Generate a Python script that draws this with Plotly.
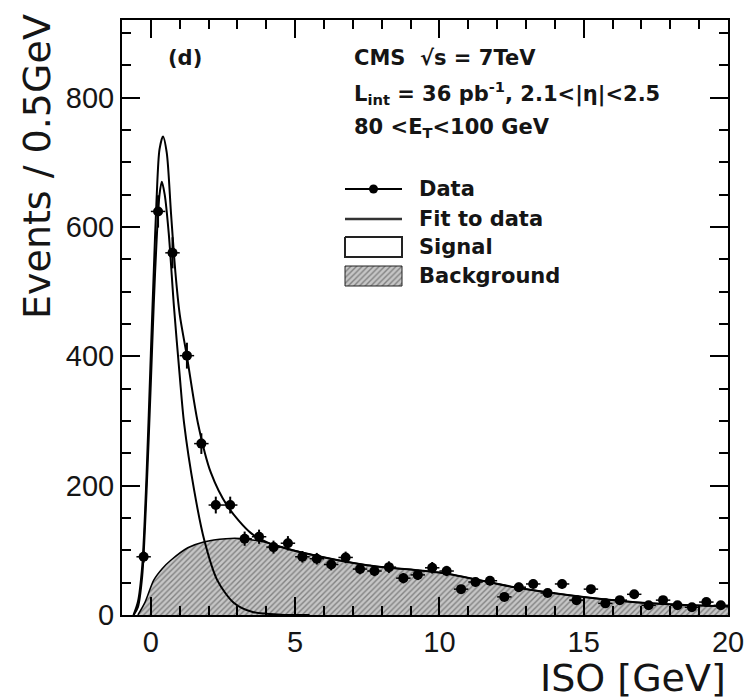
import plotly.graph_objects as go

# ---- data ----
iso_bins = [-0.25, 0.25, 0.75, 1.25, 1.75, 2.25, 2.75, 3.25, 3.75, 4.25, 4.75,
            5.25, 5.75, 6.25, 6.75, 7.25, 7.75, 8.25, 8.75, 9.25, 9.75,
            10.25, 10.75, 11.25, 11.75, 12.25, 12.75, 13.25, 13.75, 14.25, 14.75,
            15.25, 15.75, 16.25, 16.75, 17.25, 17.75, 18.25, 18.75, 19.25, 19.75]
events = [90, 624, 560, 401, 265, 170, 170, 118, 121, 105, 111,
          90, 87, 78, 89, 71, 68, 74, 57, 62, 73,
          68, 40, 51, 53, 28, 43, 48, 34, 48, 23,
          40, 18, 23, 32, 15, 23, 15, 12, 20, 15]
events_err = [9, 25, 24, 20, 16, 13, 13, 11, 11, 10, 11,
              9, 9, 9, 9, 8, 8, 9, 8, 8, 9,
              8, 6, 7, 7, 5, 7, 7, 6, 7, 5,
              6, 4, 5, 6, 4, 5, 4, 3, 4, 4]

fit_x = [-0.6, -0.45, -0.3, -0.15, 0.0, 0.1, 0.2, 0.3, 0.42, 0.55, 0.7, 0.85, 1.0,
         1.25, 1.63, 2.08, 2.66, 3.46, 4.15, 5.2, 7.5, 10.1, 12.6, 15.0, 17.3, 20.0]
fit_y = [0, 20, 75, 215, 405, 530, 645, 720, 740, 715, 620, 530, 465,
         400, 297, 220, 168, 127, 110, 97, 77, 65, 43, 28, 18, 13]

sig_x = [-0.6, -0.45, -0.3, -0.15, 0.0, 0.1, 0.2, 0.3, 0.38, 0.48, 0.62, 0.8, 1.0,
         1.15, 1.5, 1.85, 2.3, 2.87, 3.5, 4.5, 5.5]
sig_y = [0, 12, 60, 190, 360, 480, 580, 650, 670, 650, 590, 477, 370,
         297, 193, 116, 54, 19, 5, 0.5, 0]

bkg_x = [-0.45, -0.2, 0.1, 0.4, 0.7, 1.28, 1.83, 2.6, 3.2, 4.0, 5.2, 7.5, 10.1,
         12.6, 15.0, 17.3, 20.0]
bkg_y = [0, 20, 54, 72, 85, 104, 113, 118, 118, 112, 97, 77, 65,
         43, 28, 18, 13]

x_ticks = [0, 5, 10, 15, 20]
y_ticks = [0, 200, 400, 600, 800]

legend_labels = ["Data", "Fit to data", "Signal", "Background"]

# ---- layout geometry (pixels of the 744x699 canvas) ----
W, H = 744, 699
L, R, T, B = 122, 728, 20, 615


def px(xp):
    return (xp - L) / (R - L)


def py(yp):
    return (B - yp) / (B - T)


TICK_FONT = "Liberation Sans"
TEXT_FONT = "DejaVu Sans"
INK = "#151515"
hatch = dict(shape="/", fgcolor="#3c3c3c", bgcolor="#c6c6c6", size=4, solidity=0.35)

fig = go.Figure()

# background (hatched)
fig.add_trace(go.Scatter(x=bkg_x, y=bkg_y, mode="lines",
                         line=dict(color="black", width=1.5, shape="spline", smoothing=0.8),
                         fill="tozeroy", fillpattern=hatch, fillcolor="#c6c6c6",
                         showlegend=False, hoverinfo="skip"))
# signal curve
fig.add_trace(go.Scatter(x=sig_x, y=sig_y, mode="lines",
                         line=dict(color="black", width=2, shape="spline", smoothing=0.8),
                         showlegend=False))
# total fit
fig.add_trace(go.Scatter(x=fit_x, y=fit_y, mode="lines",
                         line=dict(color="black", width=2, shape="spline", smoothing=0.8),
                         showlegend=False))
# data
fig.add_trace(go.Scatter(x=iso_bins, y=events, mode="markers",
                         marker=dict(color="black", size=10),
                         error_y=dict(type="data", array=events_err, color="black", thickness=2, width=0),
                         error_x=dict(type="constant", value=0.25, color="black", thickness=1.5, width=0),
                         showlegend=False))

# ---- legend, drawn on an overlay axis spanning the plot area (0..1 both ways) ----
sym_x0, sym_x1 = px(345), px(402)
row_y = [189, 219, 247, 276]
ov = dict(xaxis="x2", yaxis="y2", showlegend=False, hoverinfo="skip")
# Data symbol: line + dot
fig.add_trace(go.Scatter(x=[sym_x0, (sym_x0 + sym_x1) / 2, sym_x1], y=[py(row_y[0])] * 3,
                         mode="lines", line=dict(color="black", width=2), **ov))
fig.add_trace(go.Scatter(x=[(sym_x0 + sym_x1) / 2], y=[py(row_y[0])], mode="markers",
                         marker=dict(color="black", size=9), **ov))
# Fit line
fig.add_trace(go.Scatter(x=[sym_x0, sym_x1], y=[py(row_y[1])] * 2, mode="lines",
                         line=dict(color="#333", width=2.5), **ov))
# Signal and background boxes
for k, (fc, pat) in zip([2, 3], [("white", None), ("#c6c6c6", hatch)]):
    y0, y1 = py(row_y[k] - 10), py(row_y[k] + 10)
    kw = dict(fillpattern=pat) if pat else {}
    fig.add_trace(go.Scatter(x=[sym_x0, sym_x1, sym_x1, sym_x0, sym_x0], y=[y0, y0, y1, y1, y0],
                             mode="lines", fill="toself", fillcolor=fc,
                             line=dict(color="#222", width=2 if k == 2 else 1), **kw, **ov))

for lab, yr in zip(legend_labels, row_y):
    fig.add_annotation(text="<b>%s</b>" % lab, xref="paper", yref="paper", x=px(417), y=py(yr),
                       xanchor="left", yanchor="middle", showarrow=False,
                       font=dict(family=TEXT_FONT, size=21, color=INK))

axis_common = dict(showline=True, linecolor="black", linewidth=2, mirror="allticks",
                   ticks="inside", tickcolor="black", tickwidth=2, ticklen=18,
                   showgrid=False, zeroline=False, ticklabeloverflow="allow", automargin=False,
                   tickfont=dict(family=TICK_FONT, size=29, color=INK))

fig.update_xaxes(range=[-1, 20], tickvals=x_ticks, ticktext=[str(v) for v in x_ticks],
                 minor=dict(ticks="inside", ticklen=9, dtick=1, tickcolor="black", tickwidth=1.5),
                 **axis_common)
fig.update_yaxes(range=[0, 920], tickvals=y_ticks, ticktext=[str(v) for v in y_ticks],
                 minor=dict(ticks="inside", ticklen=9, dtick=50, tickcolor="black", tickwidth=1.5),
                 **axis_common)

txt = dict(family=TEXT_FONT, size=21, color=INK)
annos = [
    dict(text="<b>(d)</b>", x=px(185), y=py(58), xanchor="center"),
    dict(text="<b>CMS  √s = 7TeV</b>", x=px(352), y=py(58), xanchor="left"),
    dict(text="<b>L<sub>int</sub> = 36 pb<sup>-1</sup>, 2.1&lt;|η|&lt;2.5</b>", x=px(352), y=py(93), xanchor="left"),
    dict(text="<b>80 &lt;E<sub>T</sub>&lt;100 GeV</b>", x=px(352), y=py(128), xanchor="left"),
]
for a in annos:
    fig.add_annotation(xref="paper", yref="paper", yanchor="middle", showarrow=False, font=txt, **a)

fig.add_annotation(text="Events / 0.5GeV", xref="paper", yref="paper", x=px(37), y=py(167),
                   textangle=-90, showarrow=False, xanchor="center", yanchor="middle",
                   font=dict(family=TEXT_FONT, size=38, color=INK))
fig.add_annotation(text="ISO [GeV]", xref="paper", yref="paper", x=px(728), y=py(678),
                   showarrow=False, xanchor="right", yanchor="middle",
                   font=dict(family=TEXT_FONT, size=38, color=INK))

fig.update_layout(width=W, height=H, margin=dict(l=L, r=W - R, t=T, b=H - B),
                  paper_bgcolor="white", plot_bgcolor="white", showlegend=False,
                  xaxis2=dict(overlaying="x", range=[0, 1], visible=False, fixedrange=True, automargin=False),
                  yaxis2=dict(overlaying="y", range=[0, 1], visible=False, fixedrange=True, automargin=False))

fig.write_html("out.html")
